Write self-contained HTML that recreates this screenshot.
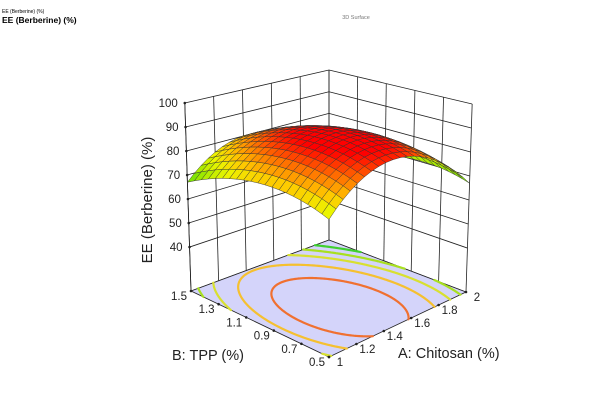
<!DOCTYPE html>
<html><head><meta charset="utf-8"><style>
body{margin:0;background:#fff;}
svg{display:block;font-family:"Liberation Sans","DejaVu Sans",sans-serif;}
</style></head><body>
<svg id="chart" width="600" height="400" viewBox="0 0 600 400">
<text x="2" y="13" font-size="5" fill="#000">EE (Berberine) (%)</text>
<text x="2" y="23" font-size="8.5" font-weight="bold" fill="#000">EE (Berberine) (%)</text>
<text x="356" y="19" font-size="5.5" fill="#777" text-anchor="middle">3D Surface</text>
<g id="walls"></g>
<g id="floor"></g>
<g id="surf"></g>
<g id="labels"></g>
<text transform="translate(152,200) rotate(-90)" font-size="15" text-anchor="middle" fill="#222">EE (Berberine) (%)</text>
<text x="172" y="360" font-size="14.5" fill="#222">B: TPP (%)</text>
<text x="398" y="358" font-size="14.5" fill="#222">A: Chitosan (%)</text>
</svg>
<script>
// model coefficients: z = peak - cA*x^2 - cB*y^2 - cAB*x*y, x=a-center, y=b-center
const modelPeak = [92];
const modelCenter = [0.444, 0.362];
const modelQuad = [70.1, 29.1, 2.34];
const zTicks = [40, 50, 60, 70, 80, 90, 100];
const aTicks = ["1", "1.2", "1.4", "1.6", "1.8", "2"];
const bTicks = ["0.5", "0.7", "0.9", "1.1", "1.3", "1.5"];
const contourLevels = [87, 81, 75, 70, 65];
const contourColors = ["#f07030", "#f5c030", "#d8e030", "#a8e020", "#40d030"];

const NS = "http://www.w3.org/2000/svg";
const ZF = 21.7, ZT = 100;
function proj(a, b, z) {
  const fx = 329 + a*137 - b*138 + a*b*1;
  const fy = 357 - a*65 - b*66 + a*b*14;
  const h = 206 - 36*(a+b)/2;
  const t = (z - ZF)/(ZT - ZF);
  return [fx + (fx-329)*0.045*t, fy - h*t];
}
function model(a, b) {
  const x = a - modelCenter[0], y = b - modelCenter[1];
  return modelPeak[0] - modelQuad[0]*x*x - modelQuad[1]*y*y - modelQuad[2]*x*y;
}
function mk(tag, attrs, parent) {
  const e = document.createElementNS(NS, tag);
  for (const k in attrs) e.setAttribute(k, attrs[k]);
  parent.appendChild(e); return e;
}
function line(p, q, parent, stroke, w) {
  return mk("line", {x1:p[0], y1:p[1], x2:q[0], y2:q[1], stroke:stroke, "stroke-width":w}, parent);
}
const walls = document.getElementById("walls");
zTicks.forEach(z => {
  const l = line(proj(0,1,z), proj(1,1,z), walls, "#222", 0.8);
  
  
  const r = line(proj(1,1,z), proj(1,0,z), walls, "#222", 0.8);
  
  
});
line(proj(0,1,ZF), proj(1,1,ZF), walls, "#222", 0.8);
line(proj(1,1,ZF), proj(1,0,ZF), walls, "#222", 0.8);
for (let i = 0; i < aTicks.length; i++) {
  const a = i/(aTicks.length-1);
  const l = line(proj(a,1,ZF), proj(a,1,ZT), walls, "#222", 0.8);
  
  
}
for (let i = 0; i < bTicks.length; i++) {
  const b = i/(bTicks.length-1);
  const l = line(proj(1,b,ZF), proj(1,b,ZT), walls, "#222", 0.8);
  
  
}
const floor = document.getElementById("floor");
const fc = [proj(0,0,ZF), proj(1,0,ZF), proj(1,1,ZF), proj(0,1,ZF)];
const fp = mk("polygon", {points: fc.map(p=>p.join(",")).join(" "), fill:"#d4d4fa", stroke:"#222", "stroke-width":0.8}, floor);


const N = 80;
const grid = [];
for (let i = 0; i <= N; i++) { grid.push([]); for (let j = 0; j <= N; j++) grid[i].push(model(i/N, j/N)); }
contourLevels.forEach((lev, li) => {
  let d = "";
  for (let i = 0; i < N; i++) for (let j = 0; j < N; j++) {
    const v = [grid[i][j], grid[i+1][j], grid[i+1][j+1], grid[i][j+1]];
    const c = [[i,j],[i+1,j],[i+1,j+1],[i,j+1]];
    const pts = [];
    for (let k = 0; k < 4; k++) {
      const v1 = v[k], v2 = v[(k+1)%4];
      if ((v1 - lev)*(v2 - lev) < 0) {
        const t = (lev - v1)/(v2 - v1);
        const p1 = c[k], p2 = c[(k+1)%4];
        pts.push(proj((p1[0]+(p2[0]-p1[0])*t)/N, (p1[1]+(p2[1]-p1[1])*t)/N, ZF));
      }
    }
    if (pts.length >= 2) d += "M"+pts[0][0].toFixed(2)+","+pts[0][1].toFixed(2)+"L"+pts[1][0].toFixed(2)+","+pts[1][1].toFixed(2);
    if (pts.length === 4) d += "M"+pts[2][0].toFixed(2)+","+pts[2][1].toFixed(2)+"L"+pts[3][0].toFixed(2)+","+pts[3][1].toFixed(2);
  }
  const path = mk("path", {d:d, stroke:contourColors[li], "stroke-width":2.2, fill:"none", "stroke-linecap":"round"}, floor);
  
  
});
const el = line(proj(0,1,ZF), proj(0,1,ZT), walls, "#222", 0.8);


const stops = [[64,[40,200,40]],[70,[140,230,0]],[76,[235,245,0]],[80,[255,200,0]],[85,[255,110,0]],[90,[255,0,0]]];
function color(z) {
  if (z <= stops[0][0]) return "rgb("+stops[0][1]+")";
  for (let k = 1; k < stops.length; k++) {
    if (z <= stops[k][0]) {
      const t = (z - stops[k-1][0])/(stops[k][0]-stops[k-1][0]);
      const c = stops[k-1][1].map((v,m)=>Math.round(v + (stops[k][1][m]-v)*t));
      return "rgb("+c.join(",")+")";
    }
  }
  return "rgb("+stops[stops.length-1][1]+")";
}
const surf = document.getElementById("surf");
const M = 20;
const quads = [];
for (let i = 0; i < M; i++) for (let j = 0; j < M; j++) quads.push([i,j]);
quads.sort((p,q) => (q[0]+q[1]) - (p[0]+p[1]));
quads.forEach(([i,j]) => {
  const cs = [[i,j],[i+1,j],[i+1,j+1],[i,j+1]].map(([u,v]) => proj(u/M, v/M, model(u/M, v/M)));
  const zc = model((i+0.5)/M, (j+0.5)/M);
  const poly = mk("polygon", {points: cs.map(p=>p[0].toFixed(2)+","+p[1].toFixed(2)).join(" "), fill:color(zc), stroke:"#333", "stroke-width":0.45}, surf);
  
  
});
const labels = document.getElementById("labels");
zTicks.forEach(z => {
  const p = proj(0,1,z);
  mk("circle", {cx:p[0], cy:p[1], r:1.3, fill:"#222"}, labels);
  const t = mk("text", {x:p[0]-7, y:p[1]+4, "font-size":11.5, "text-anchor":"end", fill:"#222"}, labels);
  t.textContent = z;
  
  
});
aTicks.forEach((lab, i) => {
  const a = i/(aTicks.length-1);
  const p = proj(a,0,ZF);
  mk("circle", {cx:p[0], cy:p[1], r:1.3, fill:"#222"}, labels);
  const t = mk("text", {x:p[0]+11, y:p[1]+9, "font-size":11.5, "text-anchor":"middle", fill:"#222"}, labels);
  t.textContent = lab;
  
  
});
bTicks.forEach((lab, i) => {
  const b = i/(bTicks.length-1);
  const p = proj(0,b,ZF);
  mk("circle", {cx:p[0], cy:p[1], r:1.3, fill:"#222"}, labels);
  const t = mk("text", {x:p[0]-12, y:p[1]+9, "font-size":11.5, "text-anchor":"middle", fill:"#222"}, labels);
  t.textContent = lab;
  
  
});
</script>
</body></html>
